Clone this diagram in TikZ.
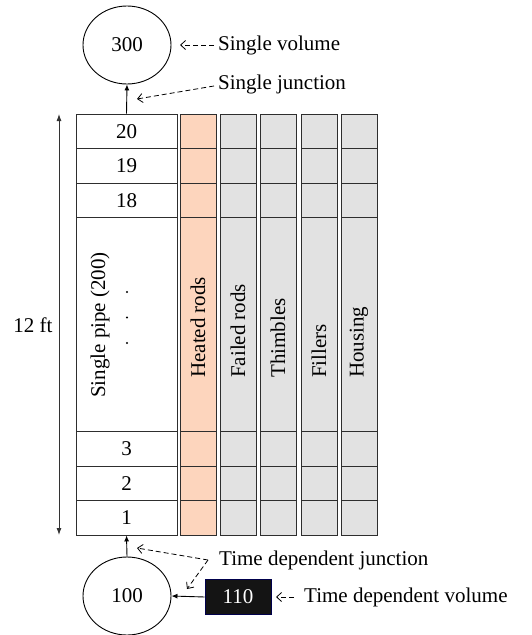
\documentclass[tikz,border=0pt]{standalone}
\usepackage{fontspec}
\setmainfont{Liberation Serif}
\usetikzlibrary{arrows.meta,shapes.geometric}
\definecolor{peach}{HTML}{FDD5BD}
\definecolor{cellgray}{HTML}{E2E2E2}
\definecolor{edgec}{HTML}{2E2E2E}
\begin{document}
\begin{tikzpicture}[x=1pt,y=-1pt,
  font=\fontsize{21}{25}\selectfont,
  cell/.style={draw=edgec,line width=0.9pt,inner sep=0pt},
  vol/.style={ellipse,draw=black,line width=0.9pt,minimum width=88pt,minimum height=78pt,inner sep=0pt},
  solidarrow/.style={draw=black,line width=0.9pt,-{Latex[length=6pt,width=5pt]}},
  dasharrow/.style={draw=black,line width=0.8pt,dash pattern=on 5pt off 3pt,-{Straight Barb[length=5pt,width=9pt]}},
  lbl/.style={anchor=west,inner sep=0pt},
  rot/.style={rotate=90,anchor=west,inner sep=0pt}
]
\useasboundingbox (0,0) rectangle (532,635);

% cells
\foreach \r/\yc/\h in {20/131.25/34.5, 19/165.75/34.5, 18/200.25/34.5, m/324.5/214, 3/448.75/34.5, 2/483.25/34.5, 1/517.75/34.5}{
  \node[cell,fill=white,minimum width=101pt,minimum height=\h pt] (c0r\r) at (126.5,\yc) {};
  \node[cell,fill=peach,minimum width=36pt,minimum height=\h pt] (c1r\r) at (198,\yc) {};
  \node[cell,fill=cellgray,minimum width=36pt,minimum height=\h pt] (c2r\r) at (238,\yc) {};
  \node[cell,fill=cellgray,minimum width=36pt,minimum height=\h pt] (c3r\r) at (278,\yc) {};
  \node[cell,fill=cellgray,minimum width=36pt,minimum height=\h pt] (c4r\r) at (319,\yc) {};
  \node[cell,fill=cellgray,minimum width=36pt,minimum height=\h pt] (c5r\r) at (359,\yc) {};
}
% row numbers
\foreach \r in {20,19,18,3,2,1}{
  \node (n\r) at (c0r\r.center) {\r};
}
% rotated labels
\node[rotate=90,inner sep=0pt] (pipe) at (100,325) {Single pipe (200)};
\fill (127,292) circle (1.2pt) (127,317.5) circle (1.2pt) (127,343) circle (1.2pt);
\node[rot] (heated) at (198,378) {Heated rods};
\node[rot] (failed) at (238,378) {Failed rods};
\node[rot] (thimb) at (278,378) {Thimbles};
\node[rot] (fill) at (319,378) {Fillers};
\node[rot] (hous) at (359,378) {Housing};

% volumes
\node[vol] (v300) at (127,45) {300};
\node[vol] (v100) at (127,596) {100};
\node[fill=black!92,draw=black!70!blue,line width=0.6pt,text=white,minimum width=66pt,minimum height=35pt,inner sep=0pt] (v110) at (238,597) {110};

% solid connectors
\draw[solidarrow] (c0r20.north) -- (v300.south);
\draw[solidarrow] (v100.north) -- (c0r1.south);
\draw[solidarrow] (v110.west) -- (v100.east);

% height arrow
\coordinate (hbot) at (59,535);
\coordinate (htop) at (59,114);
\draw[draw=black!80,line width=0.9pt,{Latex[length=7pt,width=5pt]}-{Latex[length=7pt,width=5pt]}] (hbot) -- (htop);
\node (ft) at (33,325) {12 ft};

% annotation labels
\node[lbl] (lsv) at (218,45) {Single volume};
\node[lbl] (lsj) at (218,84) {Single junction};
\node[lbl] (ltj) at (219,560) {Time dependent junction};
\node[lbl] (ltv) at (304,597) {Time dependent volume};

\coordinate (sv0) at (214,45);
\coordinate (sv1) at (180,45);
\coordinate (sj0) at (214,86);
\coordinate (sj1) at (137,99);
\coordinate (tj0) at (208,560);
\coordinate (tj1) at (137,548);
\coordinate (tj2) at (187,589);
\coordinate (tv0) at (294,597);
\coordinate (tv1) at (276,597);

\draw[dasharrow] (sv0) -- (sv1);
\draw[dasharrow] (sj0) -- (sj1);
\draw[dasharrow] (tj0) -- (tj1);
\draw[dasharrow] (tj0) -- (tj2);
\draw[dasharrow] (tv0) -- (tv1);
\end{tikzpicture}
\end{document}
